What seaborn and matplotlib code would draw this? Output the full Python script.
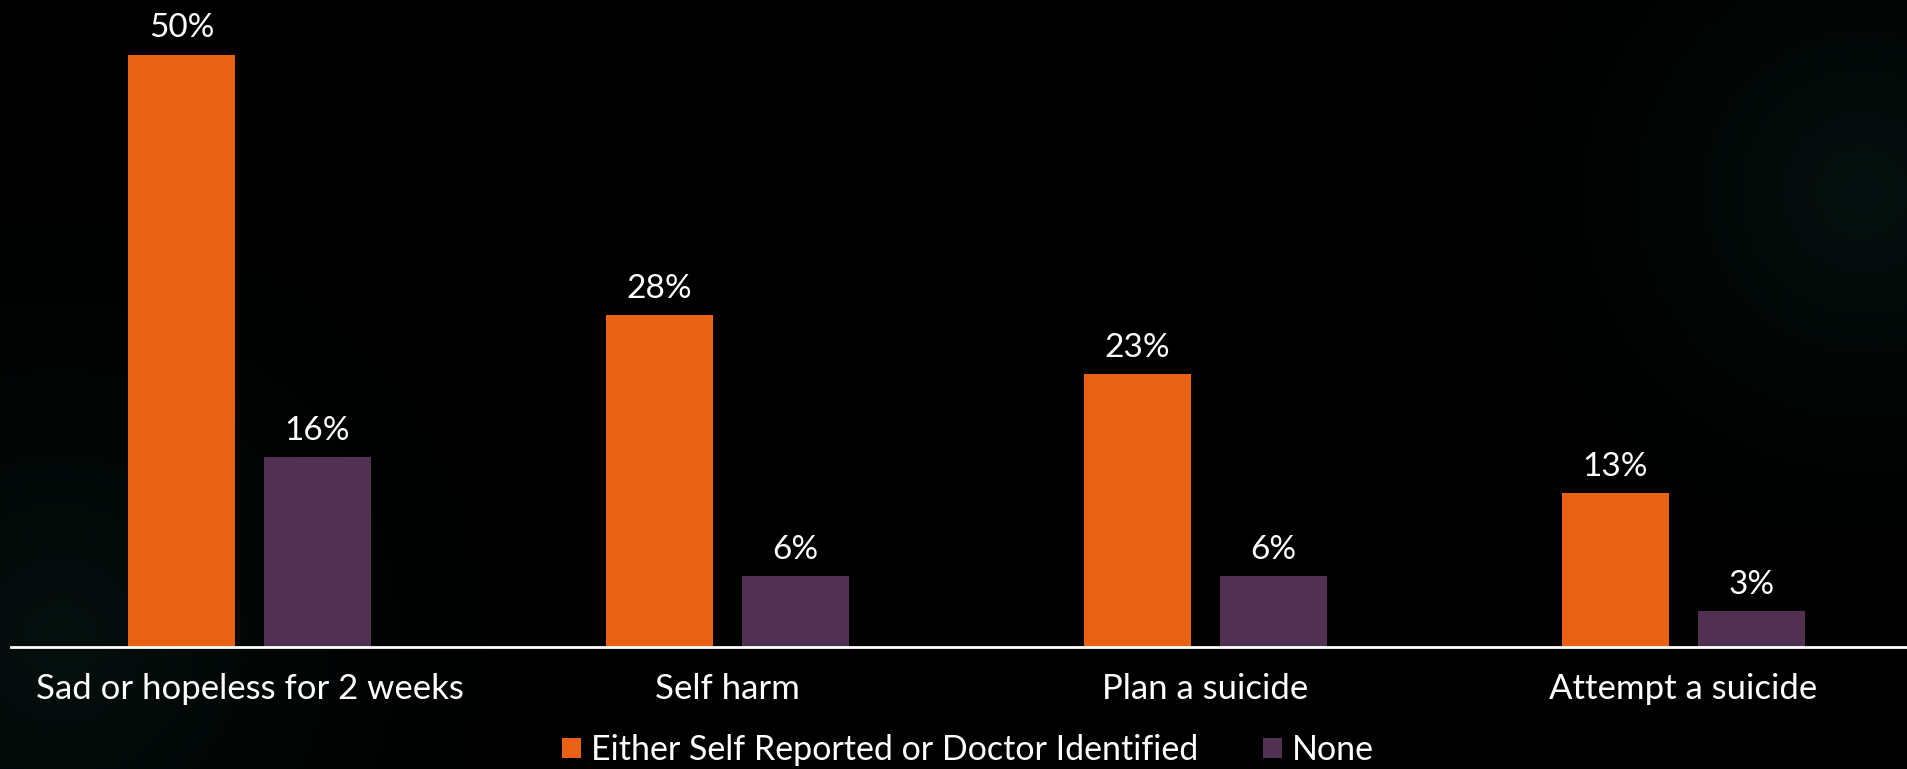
import numpy as np
import pandas as pd
import matplotlib
matplotlib.use("Agg")
import matplotlib.pyplot as plt
import seaborn as sns

# Survey data: share of students reporting each outcome
categories = ["Sad or hopeless for 2 weeks", "Self harm", "Plan a suicide", "Attempt a suicide"]
either_values = [50, 28, 23, 13]
none_values = [16, 6, 6, 3]
series_names = ["Either Self Reported or Doctor Identified", "None"]
value_labels_either = ["50%", "28%", "23%", "13%"]
value_labels_none = ["16%", "6%", "6%", "3%"]

ORANGE = "#E96214"
PURPLE = "#523051"

df = pd.DataFrame({
    "category": categories * 2,
    "group": [series_names[0]] * len(categories) + [series_names[1]] * len(categories),
    "value": either_values + none_values,
})

sns.set_theme(style="dark")
plt.rcParams["font.family"] = ["Lato", "DejaVu Sans"]

W, H = 1908, 769
fig = plt.figure(figsize=(W / 100, H / 100), dpi=100)
fig.patch.set_facecolor("black")

# Dark background with faint teal radial glows
bg = fig.add_axes([0, 0, 1, 1], zorder=-10)
yy, xx = np.mgrid[0:H, 0:W]
def glow(cx, cy, r, strength):
    d = np.sqrt((xx - cx) ** 2 + (yy - cy) ** 2) / r
    return strength * np.clip(1 - d, 0, 1) ** 1.6
g = glow(1862, 192, 420, 0.85) + glow(60, 640, 520, 0.8)
tint = np.array([6, 20, 17]) / 255.0
img = g[..., None] * tint[None, None, :]
bg.imshow(np.clip(img, 0, 1), extent=[0, W, H, 0], aspect="auto")
bg.set_axis_off()

ax_left = 10.5 / W
ax_bottom = (H - 647) / H
ax = fig.add_axes([ax_left, ax_bottom, 1 - ax_left, 1 - ax_bottom])
ax.set_facecolor("none")

sns.barplot(
    data=df, x="category", y="value", hue="group",
    palette=[ORANGE, PURPLE], width=0.569, gap=0.21,
    saturation=1, ax=ax, legend=True, linewidth=0,
)

slot_px = 478.0
ax.set_xlim(-0.5, -0.5 + (W - 10.5) / slot_px)
ax.set_ylim(0, 647 / 11.85)

for container, labels in zip(ax.containers, [value_labels_either, value_labels_none]):
    ax.bar_label(container, labels=labels, padding=8, color="white", fontsize=24)

ax.set_xlabel("")
ax.set_ylabel("")
ax.set_yticks([])
ax.tick_params(axis="x", length=0, pad=19, labelsize=25, labelcolor="white")
ax.grid(False)
for side in ["top", "left", "right"]:
    ax.spines[side].set_visible(False)
ax.spines["bottom"].set_color("white")
ax.spines["bottom"].set_linewidth(2)

handles, labels = ax.get_legend_handles_labels()
ax.legend_.remove()
leg = fig.legend(
    handles, labels, loc="center", bbox_to_anchor=(968 / W, 1 - 750 / H),
    ncol=2, frameon=False, fontsize=24.5, handlelength=0.55, handleheight=0.55,
    handletextpad=0.3, columnspacing=1.9, borderpad=0,
)
for t in leg.get_texts():
    t.set_color("white")

fig.savefig("out.png", dpi=100, facecolor=fig.get_facecolor())
